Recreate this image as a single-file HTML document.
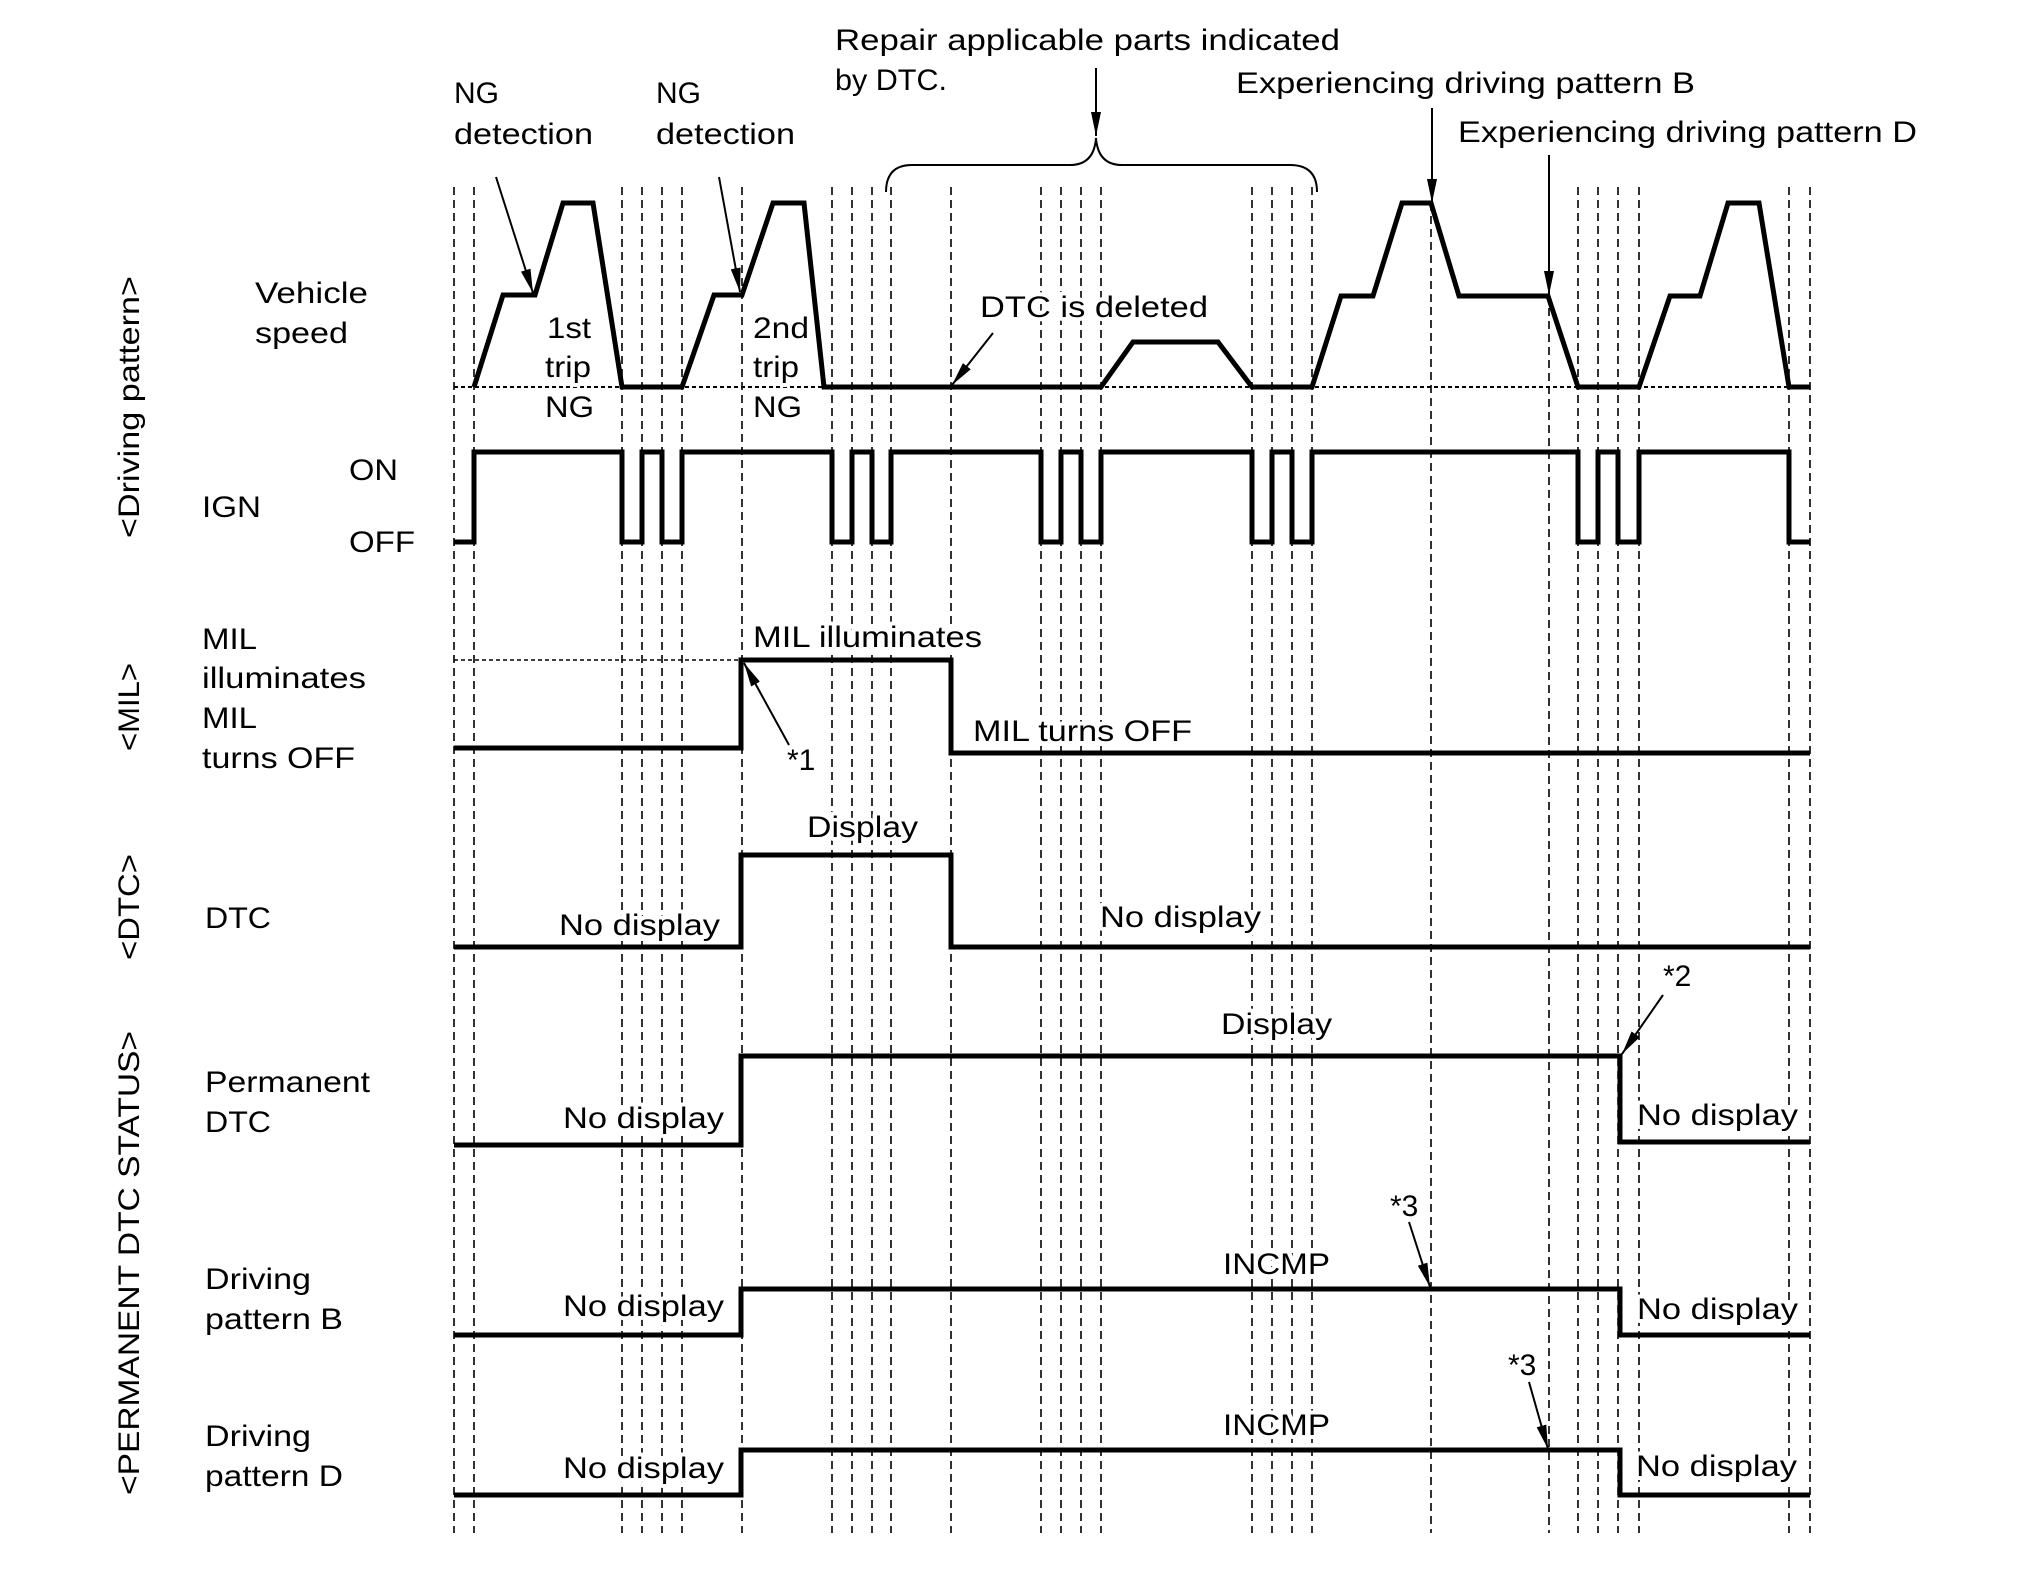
<!DOCTYPE html>
<html><head><meta charset="utf-8"><style>
html,body{margin:0;padding:0;background:#fff;}
svg{display:block;}
text{font-family:"Liberation Sans",Arial,sans-serif;font-size:30px;fill:#000;}
.h{stroke:#fff;stroke-width:8px;paint-order:stroke;stroke-linejoin:round;}
</style></head><body>
<svg width="2020" height="1571" viewBox="0 0 2020 1571" xmlns="http://www.w3.org/2000/svg">
<defs>
<marker id="ah" markerWidth="24" markerHeight="10" refX="24" refY="5" orient="auto" markerUnits="userSpaceOnUse" viewBox="0 0 24 10">
<path d="M0,0 L24,5 L0,10 Z" fill="#000"/>
</marker>
</defs>
<rect width="2020" height="1571" fill="#fff"/>
<g stroke="#000" stroke-width="1.6" stroke-dasharray="8,5" fill="none">
<line x1="454" y1="187" x2="454" y2="1533"/>
<line x1="474" y1="187" x2="474" y2="1533"/>
<line x1="622" y1="187" x2="622" y2="1533"/>
<line x1="642" y1="187" x2="642" y2="1533"/>
<line x1="662" y1="187" x2="662" y2="1533"/>
<line x1="682" y1="187" x2="682" y2="1533"/>
<line x1="742" y1="187" x2="742" y2="1533"/>
<line x1="832" y1="187" x2="832" y2="1533"/>
<line x1="852" y1="187" x2="852" y2="1533"/>
<line x1="872" y1="187" x2="872" y2="1533"/>
<line x1="891" y1="187" x2="891" y2="1533"/>
<line x1="951" y1="187" x2="951" y2="1533"/>
<line x1="1041" y1="187" x2="1041" y2="1533"/>
<line x1="1061" y1="187" x2="1061" y2="1533"/>
<line x1="1081" y1="187" x2="1081" y2="1533"/>
<line x1="1101" y1="187" x2="1101" y2="1533"/>
<line x1="1252" y1="187" x2="1252" y2="1533"/>
<line x1="1272" y1="187" x2="1272" y2="1533"/>
<line x1="1292" y1="187" x2="1292" y2="1533"/>
<line x1="1312" y1="187" x2="1312" y2="1533"/>
<line x1="1431" y1="203" x2="1431" y2="1533"/>
<line x1="1549" y1="295" x2="1549" y2="1533"/>
<line x1="1578" y1="187" x2="1578" y2="1533"/>
<line x1="1598" y1="187" x2="1598" y2="1533"/>
<line x1="1618" y1="187" x2="1618" y2="1533"/>
<line x1="1639" y1="187" x2="1639" y2="1533"/>
<line x1="1789" y1="187" x2="1789" y2="1533"/>
<line x1="1810" y1="187" x2="1810" y2="1533"/>
</g>
<line x1="454" y1="387" x2="1810" y2="387" stroke="#000" stroke-width="2" stroke-dasharray="4,3"/>
<line x1="454" y1="660" x2="742" y2="660" stroke="#000" stroke-width="1.6" stroke-dasharray="4,3"/>
<!-- texts with halo (placed before waveforms) -->
<g class="h">
<text class="h" x="547" y="338" textLength="44" lengthAdjust="spacingAndGlyphs">1st</text>
<text class="h" x="545" y="377" textLength="46" lengthAdjust="spacingAndGlyphs">trip</text>
<text class="h" x="545" y="417" textLength="49" lengthAdjust="spacingAndGlyphs">NG</text>
<text class="h" x="753" y="338" textLength="56" lengthAdjust="spacingAndGlyphs">2nd</text>
<text class="h" x="753" y="377" textLength="46" lengthAdjust="spacingAndGlyphs">trip</text>
<text class="h" x="753" y="417" textLength="49" lengthAdjust="spacingAndGlyphs">NG</text>
<text class="h" x="980" y="317" textLength="228" lengthAdjust="spacingAndGlyphs">DTC is deleted</text>
<text class="h" x="753" y="647" textLength="229" lengthAdjust="spacingAndGlyphs">MIL illuminates</text>
<text class="h" x="787" y="770">*1</text>
<text class="h" x="973" y="741" textLength="219" lengthAdjust="spacingAndGlyphs">MIL turns OFF</text>
<text class="h" x="807" y="837" textLength="111" lengthAdjust="spacingAndGlyphs">Display</text>
<text class="h" x="559" y="935" textLength="161" lengthAdjust="spacingAndGlyphs">No display</text>
<text class="h" x="1100" y="927" textLength="161" lengthAdjust="spacingAndGlyphs">No display</text>
<text class="h" x="1221" y="1034" textLength="111" lengthAdjust="spacingAndGlyphs">Display</text>
<text class="h" x="563" y="1128" textLength="161" lengthAdjust="spacingAndGlyphs">No display</text>
<text class="h" x="1637" y="1125" textLength="161" lengthAdjust="spacingAndGlyphs">No display</text>
<text class="h" x="1663" y="986">*2</text>
<text class="h" x="1223" y="1274" textLength="107" lengthAdjust="spacingAndGlyphs">INCMP</text>
<text class="h" x="1390" y="1216">*3</text>
<text class="h" x="563" y="1316" textLength="161" lengthAdjust="spacingAndGlyphs">No display</text>
<text class="h" x="1637" y="1319" textLength="161" lengthAdjust="spacingAndGlyphs">No display</text>
<text class="h" x="1223" y="1435" textLength="107" lengthAdjust="spacingAndGlyphs">INCMP</text>
<text class="h" x="1508" y="1375">*3</text>
<text class="h" x="563" y="1478" textLength="161" lengthAdjust="spacingAndGlyphs">No display</text>
<text class="h" x="1636" y="1476" textLength="161" lengthAdjust="spacingAndGlyphs">No display</text>
</g>
<g stroke="#000" stroke-width="5" fill="none" stroke-linejoin="miter">
<polyline points="474,387 503,295 535,295 563,203 593,203 622,387 682,387 714,295 742,295 773,203 804,203 824,387 1101,387 1133,342 1218,342 1252,387 1312,387 1341,296 1373,296 1402,203 1431,203 1459,296 1548,296 1578,387 1639,387 1670,296 1700,296 1728,203 1759,203 1789,387 1810,387"/>
<polyline points="454,542 474,542 474,452 622,452 622,542 642,542 642,452 662,452 662,542 682,542 682,452 832,452 832,542 852,542 852,452 872,452 872,542 891,542 891,452 1041,452 1041,542 1061,542 1061,452 1081,452 1081,542 1101,542 1101,452 1252,452 1252,542 1272,542 1272,452 1292,452 1292,542 1312,542 1312,452 1578,452 1578,542 1598,542 1598,452 1618,452 1618,542 1639,542 1639,452 1789,452 1789,542 1810,542"/>
<polyline points="454,748 741,748 741,660 951,660 951,753 1810,753"/>
<polyline points="454,947 741,947 741,855 951,855 951,947 1810,947"/>
<polyline points="454,1145 741,1145 741,1056 1620,1056 1620,1142 1810,1142"/>
<polyline points="454,1335 741,1335 741,1289 1620,1289 1620,1335 1810,1335"/>
<polyline points="454,1495 741,1495 741,1450 1620,1450 1620,1495 1810,1495"/>
</g>
<path d="M886,192 Q886,165 912,165 L1070,165 Q1094,165 1096,138 Q1098,165 1122,165 L1290,165 Q1317,165 1317,192" stroke="#000" stroke-width="2" fill="none"/>
<g stroke="#000" stroke-width="2" fill="none" marker-end="url(#ah)">
<line x1="1096" y1="68" x2="1096" y2="136"/>
<line x1="1432" y1="108" x2="1432" y2="203"/>
<line x1="1549" y1="155" x2="1549" y2="295"/>
<line x1="496" y1="177" x2="533" y2="293"/>
<line x1="719" y1="177" x2="740" y2="292"/>
<line x1="993" y1="333" x2="952" y2="385"/>
<line x1="789" y1="745" x2="744" y2="663"/>
<line x1="1663" y1="995" x2="1622" y2="1054"/>
<line x1="1409" y1="1222" x2="1430" y2="1287"/>
<line x1="1529" y1="1382" x2="1548" y2="1449"/>
</g>
<text x="835" y="50" textLength="505" lengthAdjust="spacingAndGlyphs">Repair applicable parts indicated</text>
<text x="835" y="90" textLength="112" lengthAdjust="spacingAndGlyphs">by DTC.</text>
<text x="1236" y="93" textLength="459" lengthAdjust="spacingAndGlyphs">Experiencing driving pattern B</text>
<text x="1458" y="142" textLength="459" lengthAdjust="spacingAndGlyphs">Experiencing driving pattern D</text>
<text x="454" y="103">NG</text>
<text x="454" y="144" textLength="139" lengthAdjust="spacingAndGlyphs">detection</text>
<text x="656" y="103">NG</text>
<text x="656" y="144" textLength="139" lengthAdjust="spacingAndGlyphs">detection</text>
<text x="255" y="303" textLength="113" lengthAdjust="spacingAndGlyphs">Vehicle</text>
<text x="255" y="343" textLength="93" lengthAdjust="spacingAndGlyphs">speed</text>
<text x="349" y="480" textLength="49" lengthAdjust="spacingAndGlyphs">ON</text>
<text x="202" y="517" textLength="59" lengthAdjust="spacingAndGlyphs">IGN</text>
<text x="349" y="552" textLength="66" lengthAdjust="spacingAndGlyphs">OFF</text>
<text x="202" y="649" textLength="55" lengthAdjust="spacingAndGlyphs">MIL</text>
<text x="202" y="688" textLength="164" lengthAdjust="spacingAndGlyphs">illuminates</text>
<text x="202" y="728" textLength="55" lengthAdjust="spacingAndGlyphs">MIL</text>
<text x="202" y="768" textLength="153" lengthAdjust="spacingAndGlyphs">turns OFF</text>
<text x="205" y="928" textLength="66" lengthAdjust="spacingAndGlyphs">DTC</text>
<text x="205" y="1092" textLength="165" lengthAdjust="spacingAndGlyphs">Permanent</text>
<text x="205" y="1132" textLength="66" lengthAdjust="spacingAndGlyphs">DTC</text>
<text x="205" y="1289" textLength="106" lengthAdjust="spacingAndGlyphs">Driving</text>
<text x="205" y="1329" textLength="138" lengthAdjust="spacingAndGlyphs">pattern B</text>
<text x="205" y="1446" textLength="106" lengthAdjust="spacingAndGlyphs">Driving</text>
<text x="205" y="1486" textLength="138" lengthAdjust="spacingAndGlyphs">pattern D</text>
<text transform="translate(139,538) rotate(-90)" textLength="262" lengthAdjust="spacingAndGlyphs">&lt;Driving pattern&gt;</text>
<text transform="translate(139,751) rotate(-90)" textLength="88" lengthAdjust="spacingAndGlyphs">&lt;MIL&gt;</text>
<text transform="translate(139,960) rotate(-90)" textLength="106" lengthAdjust="spacingAndGlyphs">&lt;DTC&gt;</text>
<text transform="translate(139,1495) rotate(-90)" textLength="464" lengthAdjust="spacingAndGlyphs">&lt;PERMANENT DTC STATUS&gt;</text>
</svg>
</body></html>
